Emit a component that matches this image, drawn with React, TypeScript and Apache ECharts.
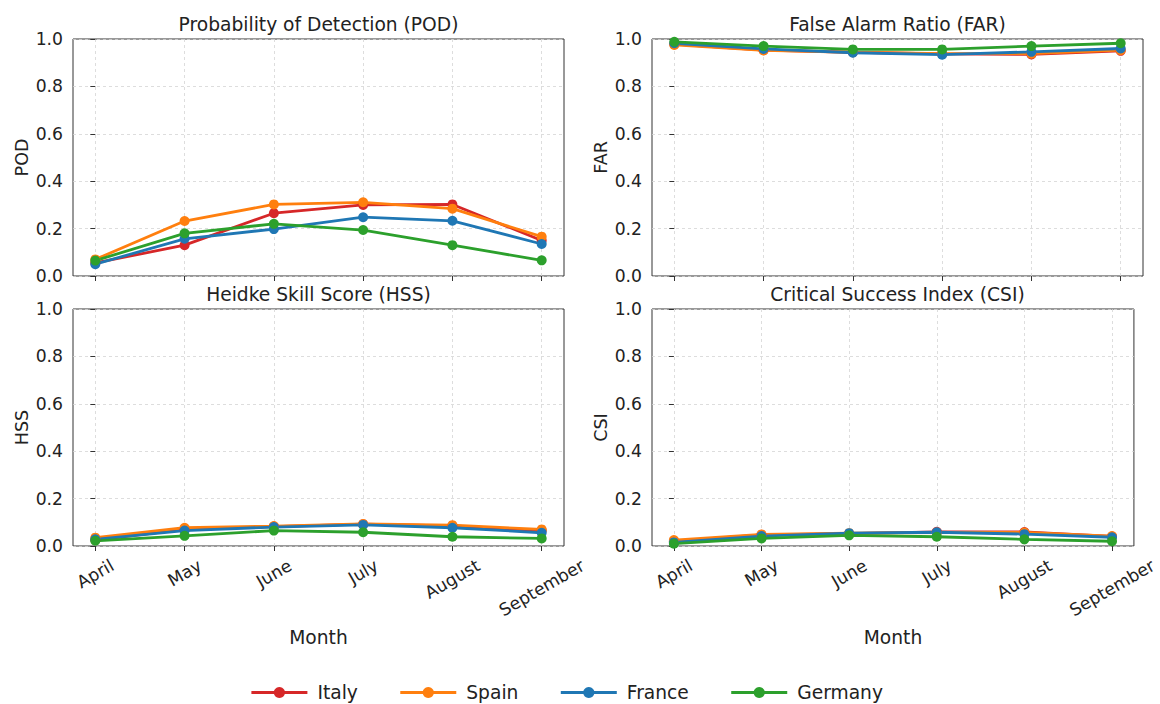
import React, { useEffect, useRef } from "react";
import * as echarts from "echarts";

const months = ["April", "May", "June", "July", "August", "September"];
const countries = ["Italy", "Spain", "France", "Germany"];
const colors = ["#d62728", "#ff7f0e", "#1f77b4", "#2ca02c"];

const podItaly = [0.055, 0.13, 0.265, 0.3, 0.302, 0.15];
const podSpain = [0.07, 0.232, 0.302, 0.311, 0.284, 0.166];
const podFrance = [0.05, 0.157, 0.198, 0.248, 0.233, 0.135];
const podGermany = [0.065, 0.18, 0.22, 0.194, 0.13, 0.066];

const farItaly = [0.978, 0.953, 0.944, 0.937, 0.935, 0.95];
const farSpain = [0.975, 0.952, 0.944, 0.938, 0.938, 0.953];
const farFrance = [0.982, 0.958, 0.942, 0.934, 0.946, 0.96];
const farGermany = [0.988, 0.97, 0.956, 0.956, 0.97, 0.982];

const hssItaly = [0.025, 0.07, 0.082, 0.092, 0.085, 0.065];
const hssSpain = [0.035, 0.077, 0.084, 0.093, 0.088, 0.07];
const hssFrance = [0.028, 0.065, 0.08, 0.089, 0.077, 0.056];
const hssGermany = [0.022, 0.043, 0.065, 0.058, 0.039, 0.032];

const csiItaly = [0.02, 0.047, 0.052, 0.06, 0.059, 0.04];
const csiSpain = [0.025, 0.049, 0.054, 0.057, 0.057, 0.042];
const csiFrance = [0.015, 0.042, 0.054, 0.058, 0.05, 0.037];
const csiGermany = [0.01, 0.032, 0.045, 0.039, 0.028, 0.02];

const panels = [
  { title: "Probability of Detection (POD)", yName: "POD", data: [podItaly, podSpain, podFrance, podGermany] },
  { title: "False Alarm Ratio (FAR)", yName: "FAR", data: [farItaly, farSpain, farFrance, farGermany] },
  { title: "Heidke Skill Score (HSS)", yName: "HSS", data: [hssItaly, hssSpain, hssFrance, hssGermany] },
  { title: "Critical Success Index (CSI)", yName: "CSI", data: [csiItaly, csiSpain, csiFrance, csiGermany] },
];

const FONT = "DejaVu Sans";
const TEXT = "#222";
const FRAME = "#333";
const GRIDC = "#d4d4d4";

export default function App() {
  const ref = useRef<HTMLDivElement>(null);
  useEffect(() => {
    if (!ref.current) return;
    const chart = echarts.init(ref.current, undefined, { renderer: "svg" });

    const tickFont = 17.2;
    const ctx = document.createElement("canvas").getContext("2d")!;
    ctx.font = `${tickFont}px "${FONT}"`;
    const rich: Record<string, any> = {};
    months.forEach((m, i) => {
      const L = ctx.measureText(m).width;
      rich["m" + i] = {
        fontSize: tickFont,
        fontFamily: FONT,
        color: TEXT,
        padding: [0.433 * L, 0.25 * L, 0, 0],
      };
    });

    const lefts = [73, 652];
    const tops = [39, 309];
    const W = 491;
    const H = 237;

    const grids: any[] = [];
    const xAxes: any[] = [];
    const yAxes: any[] = [];
    const titles: any[] = [];
    const series: any[] = [];

    panels.forEach((p, k) => {
      const col = k % 2;
      const row = Math.floor(k / 2);
      grids.push({
        left: lefts[col],
        top: tops[row],
        width: W,
        height: H,
        show: true,
        borderColor: FRAME,
        borderWidth: 1,
        containLabel: false,
      });
      titles.push({
        text: p.title,
        left: lefts[col] + W / 2,
        top: row === 0 ? 15 : 285,
        textAlign: "center",
        padding: 0,
        textStyle: { fontFamily: FONT, fontSize: 18.67, fontWeight: "normal", color: TEXT },
      });
      xAxes.push({
        type: "value",
        gridIndex: k,
        min: -0.25,
        max: 5.25,
        name: row === 1 ? "Month" : "",
        nameLocation: "middle",
        nameGap: 82,
        nameTextStyle: { fontFamily: FONT, fontSize: 18.67, color: TEXT },
        axisLine: { show: false },
        axisTick: {
          show: true,
          length: 5,
          customValues: [0, 1, 2, 3, 4, 5],
          lineStyle: { color: FRAME, width: 1 },
        },
        axisLabel: {
          show: row === 1,
          customValues: [0, 1, 2, 3, 4, 5],
          rotate: 30,
          align: "center",
          verticalAlign: "middle",
          margin: 18,
          formatter: (v: number) => {
            const i = Math.round(v);
            return `{m${i}|${months[i]}}`;
          },
          rich,
        },
        splitLine: { show: true, lineStyle: { color: GRIDC, width: 0.8, type: [3, 3] } },
      });
      yAxes.push({
        type: "value",
        gridIndex: k,
        min: 0,
        max: 1,
        interval: 0.2,
        name: p.yName,
        nameLocation: "middle",
        nameGap: 42,
        nameTextStyle: { fontFamily: FONT, fontSize: 17.5, color: TEXT },
        axisLine: { show: false },
        axisTick: { show: true, length: 5, lineStyle: { color: FRAME, width: 1 } },
        axisLabel: {
          margin: 10,
          fontFamily: FONT,
          fontSize: tickFont,
          color: TEXT,
          formatter: (v: number) => v.toFixed(1),
        },
        splitLine: { show: true, lineStyle: { color: GRIDC, width: 0.8, type: [3, 3] } },
      });
      p.data.forEach((vals, c) => {
        series.push({
          name: countries[c],
          type: "line",
          xAxisIndex: k,
          yAxisIndex: k,
          data: vals.map((v, i) => [i, v]),
          symbol: "circle",
          symbolSize: 10,
          showSymbol: true,
          lineStyle: { width: 2.8, color: colors[c] },
          itemStyle: { color: colors[c] },
          emphasis: { disabled: true },
        });
      });
    });

    chart.setOption({
      animation: false,
      backgroundColor: "#ffffff",
      title: titles,
      grid: grids,
      xAxis: xAxes,
      yAxis: yAxes,
      series,
      legend: {
        data: countries,
        left: 250,
        top: 683,
        padding: 0,
        itemWidth: 56,
        itemHeight: 14,
        itemGap: 41,
        lineStyle: { width: 2.8 },
        textStyle: { fontFamily: FONT, fontSize: 18.67, color: TEXT, padding: [0, 0, 0, 5] },
      },
    });
    return () => chart.dispose();
  }, []);
  return (
    <div
      ref={ref}
      style={{ position: "fixed", left: 0, top: 0, width: 1160, height: 704, background: "#fff" }}
    />
  );
}
